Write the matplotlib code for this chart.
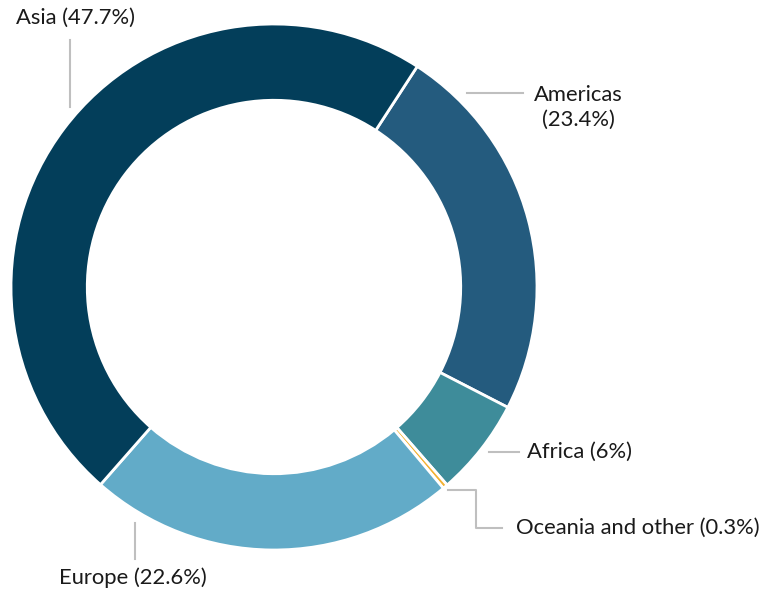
import matplotlib.pyplot as plt

plt.rcParams['font.family'] = ['Lato', 'DejaVu Sans']

# slices, clockwise from the Asia/Americas boundary
regions = ["Americas", "Africa", "Oceania and other", "Europe", "Asia"]
shares = [23.4, 6.0, 0.3, 22.6, 47.7]
colors = ["#245b7e", "#3e8c9a", "#f2b233", "#62abc8", "#033e5a"]

W, H = 766, 591
fig = plt.figure(figsize=(W / 100, H / 100), dpi=100)
ax = fig.add_axes([0, 0, 1, 1])

cx, cy, r = 274, H - 287, 263
ax.pie(shares, colors=colors, startangle=57, counterclock=False,
       center=(cx, cy), radius=r, frame=True,
       wedgeprops=dict(width=r * 0.29, edgecolor="white", linewidth=2))
ax.set_xlim(0, W)
ax.set_ylim(0, H)
ax.set_aspect("equal")
ax.axis("off")

line_kw = dict(color="#bfbfbf", lw=1.5)
txt_kw = dict(fontsize=15.8, color="#1a1a1a", va="center")


def y(p):
    return H - p


# Asia
ax.plot([70, 70], [y(40), y(107)], **line_kw)
ax.text(76, y(18), "Asia (47.7%)", ha="center", **txt_kw)
# Americas
ax.plot([467, 523], [y(93), y(93)], **line_kw)
ax.text(578, y(107), "Americas\n(23.4%)", ha="center", linespacing=1.3, **txt_kw)
# Africa
ax.plot([489, 519], [y(452), y(452)], **line_kw)
ax.text(527, y(452), "Africa (6%)", ha="left", **txt_kw)
# Oceania
ax.plot([448, 476, 476, 502], [y(490), y(490), y(528), y(528)], **line_kw)
ax.text(516, y(528), "Oceania and other (0.3%)", ha="left", **txt_kw)
# Europe
ax.plot([135, 135], [y(523), y(559)], **line_kw)
ax.text(133, y(578), "Europe (22.6%)", ha="center", **txt_kw)

fig.savefig("out.png", dpi=100)
